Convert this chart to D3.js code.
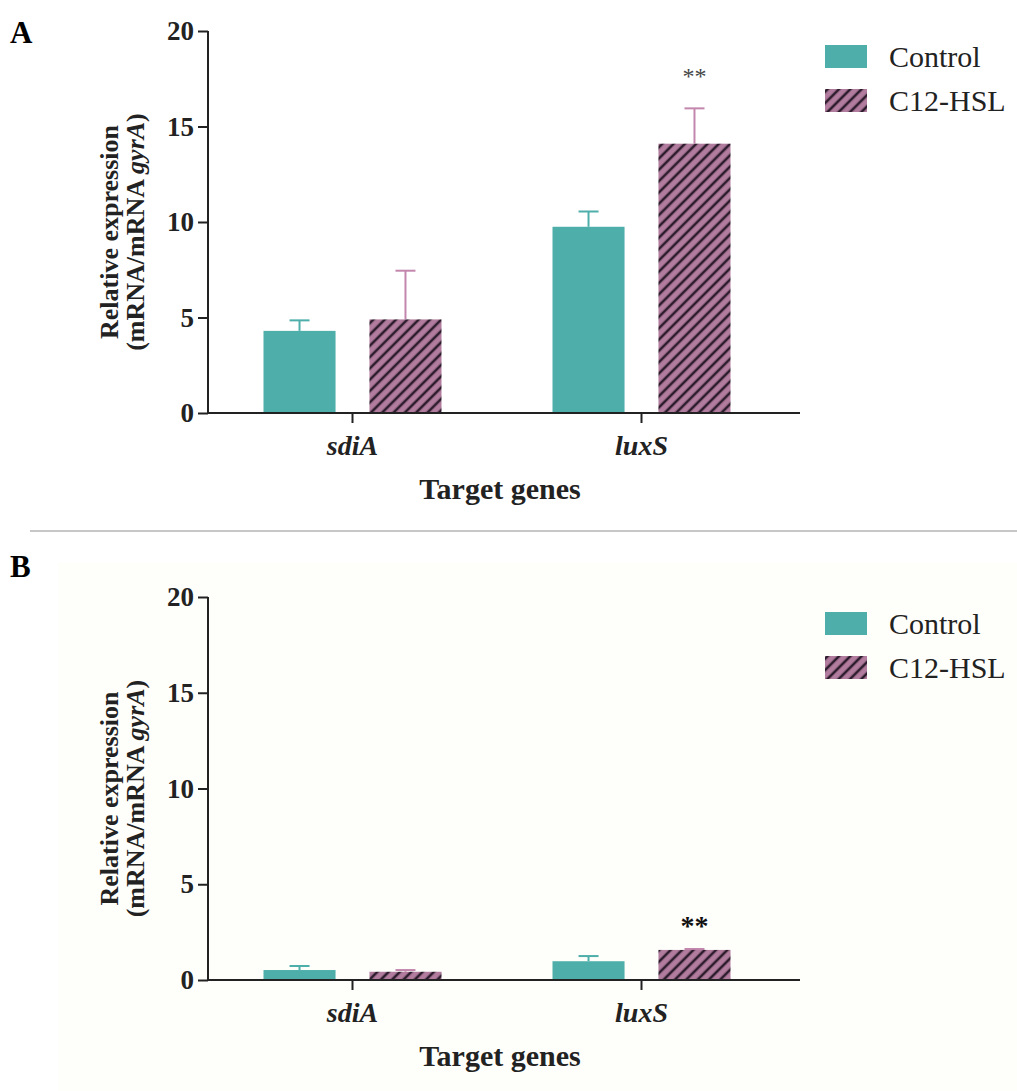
<!DOCTYPE html>
<html>
<head>
<meta charset="utf-8">
<script src="https://cdn.jsdelivr.net/npm/d3@7/dist/d3.min.js"></script>
<style>
body{ margin:0; background:#fff; }
svg{ display:block; }
</style>
</head>
<body>
<svg id="fig" width="1017" height="1091"></svg>
<script>
var genes = ["sdiA", "luxS"];
var series = ["Control", "C12-HSL"];
var yTicks = [0, 5, 10, 15, 20];

// panel A
var controlA = [4.3, 9.75];
var controlErrA = [0.55, 0.8];
var hslA = [4.9, 14.1];
var hslErrA = [2.55, 1.85];

// panel B
var controlB = [0.52, 0.98];
var controlErrB = [0.21, 0.27];
var hslB = [0.43, 1.57];
var hslErrB = [0.09, 0.05];

var teal = "#4daeaa";
var pink = "#b27c9f";
var pinkErr = "#c387ae";
var ink = "#222";
var font = "'Liberation Serif', 'Times New Roman', serif";

var svg = d3.select("#fig");

// hatch pattern
var defs = svg.append("defs");
var pat = defs.append("pattern")
	.attr("id", "hatch")
	.attr("patternUnits", "userSpaceOnUse")
	.attr("width", 8).attr("height", 8)
	.attr("patternTransform", "rotate(45)");
pat.append("rect").attr("width", 8).attr("height", 8).attr("fill", pink);
pat.append("line")
	.attr("x1", 2).attr("y1", 0).attr("x2", 2).attr("y2", 8)
	.attr("stroke", "#2b1b2b").attr("stroke-width", 2.6);

// panel B background + divider
svg.append("rect")
	.attr("x", 58).attr("y", 563).attr("width", 1017 - 58).attr("height", 1091 - 563)
	.attr("fill", "#fefefa");
svg.append("line")
	.attr("x1", 30).attr("x2", 1017).attr("y1", 531).attr("y2", 531)
	.attr("stroke", "#b4b4b4").attr("stroke-width", 1.5);

var drawPanel = function(opt){
	var g = svg.append("g");
	var y = d3.scaleLinear().domain([0, 20]).range([opt.y0, opt.y20]);
	var x0 = d3.scaleBand().domain(genes).range([208, 786]);
	var x1 = d3.scaleBand().domain(series).range([-89, 89]).paddingInner(0.32);

	// panel letter
	g.append("text")
		.attr("x", 10).attr("y", opt.letterY)
		.attr("font-family", font).attr("font-weight", "bold").attr("font-size", 31)
		.attr("fill", "#000")
		.text(opt.letter);

	var rows = genes.map(function(gene, i){
		return [
			{ gene: gene, s: series[0], v: opt.control[i], e: opt.controlErr[i] },
			{ gene: gene, s: series[1], v: opt.hsl[i], e: opt.hslErr[i] }
		];
	});
	var data = [].concat.apply([], rows);

	var barX = function(d){ return x0(d.gene) + x0.bandwidth() / 2 + x1(d.s); };
	var barC = function(d){ return barX(d) + x1.bandwidth() / 2; };

	// error bars (behind bars)
	var eb = g.append("g").selectAll("g").data(data).enter().append("g")
		.attr("stroke", function(d){ return d.s === series[0] ? teal : pinkErr; })
		.attr("stroke-width", 2);
	eb.append("line")
		.attr("x1", barC).attr("x2", barC)
		.attr("y1", function(d){ return y(d.v); })
		.attr("y2", function(d){ return y(d.v + d.e); });
	eb.append("line")
		.attr("x1", function(d){ return barC(d) - 10; })
		.attr("x2", function(d){ return barC(d) + 10; })
		.attr("y1", function(d){ return y(d.v + d.e); })
		.attr("y2", function(d){ return y(d.v + d.e); });

	// bars
	g.append("g").selectAll("rect").data(data).enter().append("rect")
		.attr("x", barX)
		.attr("width", x1.bandwidth())
		.attr("y", function(d){ return y(d.v); })
		.attr("height", function(d){ return y(0) - y(d.v); })
		.attr("fill", function(d){ return d.s === series[0] ? teal : "url(#hatch)"; });

	// y axis
	var yAxis = g.append("g")
		.attr("transform", "translate(208,0)")
		.call(d3.axisLeft(y).tickValues(yTicks).tickSize(10).tickPadding(4));
	yAxis.select(".domain").attr("stroke", ink).attr("stroke-width", 2)
		.attr("d", "M0," + y(20) + "V" + y(0));
	yAxis.selectAll(".tick line").attr("stroke", ink).attr("stroke-width", 2);
	yAxis.selectAll(".tick text")
		.attr("font-family", font).attr("font-weight", "bold").attr("font-size", 27)
		.attr("fill", ink);

	// x axis
	var xAxis = g.append("g")
		.attr("transform", "translate(0," + y(0) + ")")
		.call(d3.axisBottom(x0).tickSize(10).tickPadding(12));
	xAxis.select(".domain").attr("stroke", ink).attr("stroke-width", 2)
		.attr("d", "M208,0H800");
	xAxis.selectAll(".tick line").attr("stroke", ink).attr("stroke-width", 2);
	xAxis.selectAll(".tick text")
		.attr("font-family", font).attr("font-weight", "bold").attr("font-style", "italic")
		.attr("font-size", 28).attr("fill", ink);

	// axis titles
	g.append("text")
		.attr("x", 500).attr("y", y(0) + 86)
		.attr("text-anchor", "middle")
		.attr("font-family", font).attr("font-weight", "bold").attr("font-size", 30)
		.attr("fill", ink)
		.text("Target genes");

	var yMid = (y(0) + y(20)) / 2 + 10;
	var yl = g.append("text")
		.attr("transform", "translate(118," + yMid + ") rotate(-90)")
		.attr("text-anchor", "middle")
		.attr("font-family", font).attr("font-weight", "bold").attr("font-size", 26)
		.attr("fill", ink);
	yl.append("tspan").attr("x", 0).attr("y", 0).text("Relative expression");
	var l2 = yl.append("tspan").attr("x", 0).attr("y", 26);
	l2.append("tspan").text("(mRNA/mRNA ");
	l2.append("tspan").attr("font-style", "italic").text("gyrA");
	l2.append("tspan").text(")");

	// significance mark
	var sig = data[3];
	g.append("text")
		.attr("x", barC(sig))
		.attr("y", y(opt.sigAt))
		.attr("text-anchor", "middle")
		.attr("font-family", font).attr("font-weight", opt.sigBold ? "bold" : "normal")
		.attr("font-size", opt.sigBold ? 28 : 24)
		.attr("fill", opt.sigBold ? "#111" : "#444")
		.text("**");

	// legend
	var lg = g.append("g").selectAll("g").data(series).enter().append("g")
		.attr("transform", function(d, i){ return "translate(825," + (opt.legendY + i * 44) + ")"; });
	lg.append("rect")
		.attr("width", 42).attr("height", 23)
		.attr("fill", function(d, i){ return i === 0 ? teal : "url(#hatch)"; });
	lg.append("text")
		.attr("x", 64)
		.attr("y", 22)
		.attr("font-family", font).attr("font-size", 30).attr("fill", "#222")
		.text(function(d){ return d; });
};

drawPanel({
	letter: "A", letterY: 43, y0: 413, y20: 31,
	control: controlA, controlErr: controlErrA, hsl: hslA, hslErr: hslErrA,
	sigAt: 17.2, sigBold: false, legendY: 45
});
drawPanel({
	letter: "B", letterY: 577, y0: 980, y20: 597,
	control: controlB, controlErr: controlErrB, hsl: hslB, hslErr: hslErrB,
	sigAt: 2.35, sigBold: true, legendY: 612
});
</script>
</body>
</html>
